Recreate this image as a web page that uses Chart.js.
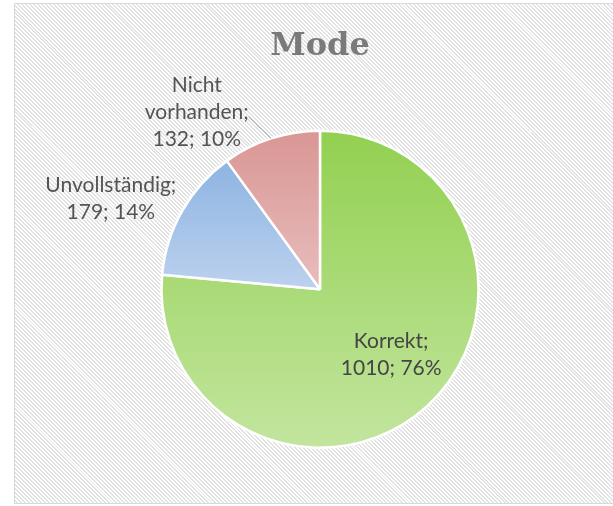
<!DOCTYPE html>
<html lang="de">
  <head>
    <meta charset="UTF-8" />
    <title>Mode</title>
    <script src="https://cdn.jsdelivr.net/npm/chart.js@4"></script>
    <style>
      html, body { margin: 0; padding: 0; background: #fff; }
      .wrap { position: relative; width: 613px; height: 506px; overflow: hidden; }
      .frame {
        position: absolute; left: 14px; top: 3px; width: 620px; height: 499px;
        border: 1px solid #d9d9d9;
        background: repeating-linear-gradient(45deg, #ffffff 0 1.4px, #e2e2e2 1.4px 2.8px);
      }
      canvas { position: absolute; left: 0; top: 0; }
    </style>
  </head>
  <body>
    <div class="wrap">
      <div class="frame"></div>
      <canvas id="chart" width="613" height="506"></canvas>
    </div>

    <script>
      // data
      const categories = ["Korrekt", "Unvollständig", "Nicht vorhanden"];
      const counts = [1010, 179, 132];

      // slice gradients (top -> bottom)
      const gradTop = ["#92d050", "#8db4e2", "#d99694"];
      const gradBottom = ["#c3e59f", "#bcd1ee", "#e8bdbc"];

      // label placement: distance factor along mid angle + nudge, wrap words, leader line
      const labelPlace = [
        { k: 0.61, dx: 6, dy: -6, wrap: false, leader: false, color: "#454545" },
        { k: 1.3, dx: -30, dy: 11, wrap: false, leader: false, color: "#545454" },
        { k: 1.25, dx: -62, dy: 12, wrap: true, leader: true, color: "#545454" },
      ];

      const total = counts.reduce((a, b) => a + b, 0);

      function sliceGradient(ctx) {
        const chart = ctx.chart;
        const area = chart.chartArea;
        const i = ctx.dataIndex;
        if (!area) return gradTop[i];
        const cx = (area.left + area.right) / 2;
        const cy = (area.top + area.bottom) / 2;
        const r = Math.min(area.right - area.left, area.bottom - area.top) / 2;
        let start = -Math.PI / 2;
        for (let k = 0; k < i; k++) start += (counts[k] / total) * 2 * Math.PI;
        const end = start + (counts[i] / total) * 2 * Math.PI;
        const ys = [cy, cy + r * Math.sin(start), cy + r * Math.sin(end)];
        for (const a of [Math.PI / 2, (3 * Math.PI) / 2]) {
          if (a > start && a < end) ys.push(cy + r * Math.sin(a));
        }
        const g = chart.ctx.createLinearGradient(0, Math.min(...ys), 0, Math.max(...ys));
        g.addColorStop(0, gradTop[i]);
        g.addColorStop(1, gradBottom[i]);
        return g;
      }

      const pieLabels = {
        id: "pieLabels",
        afterDatasetsDraw(chart) {
          const c = chart.ctx;
          const arcs = chart.getDatasetMeta(0).data;
          c.save();
          c.font = "21px Lato";
          c.textAlign = "center";
          c.textBaseline = "middle";
          const lh = 27;
          arcs.forEach((arc, i) => {
            const p = labelPlace[i];
            const { x, y, startAngle, endAngle, outerRadius } = arc.getProps(
              ["x", "y", "startAngle", "endAngle", "outerRadius"], true);
            const mid = (startAngle + endAngle) / 2;
            const bx = x + Math.cos(mid) * outerRadius * p.k + p.dx;
            const by = y + Math.sin(mid) * outerRadius * p.k + p.dy;
            const pct = Math.round((counts[i] / total) * 100);
            const nameLines = p.wrap ? categories[i].split(" ") : [categories[i]];
            nameLines[nameLines.length - 1] += ";";
            const lines = nameLines.concat([counts[i] + "; " + pct + "%"]);
            const top = by - ((lines.length - 1) * lh) / 2;
            c.fillStyle = p.color;
            lines.forEach((t, j) => c.fillText(t, bx, top + j * lh));
            if (p.leader) {
              const w = Math.max(...lines.map((t) => c.measureText(t).width));
              c.strokeStyle = "#999999";
              c.lineWidth = 1;
              c.beginPath();
              c.moveTo(x + Math.cos(mid) * outerRadius, y + Math.sin(mid) * outerRadius);
              c.lineTo(bx + w / 2, top + lh + 4);
              c.stroke();
            }
          });
          c.restore();
        },
      };

      new Chart(document.getElementById("chart"), {
        type: "pie",
        data: {
          labels: categories,
          datasets: [
            {
              data: counts,
              backgroundColor: sliceGradient,
              borderColor: "#ffffff",
              borderWidth: 2.5,
            },
          ],
        },
        options: {
          responsive: false,
          animation: false,
          events: [],
          layout: { padding: { top: 27, left: 160, right: 133, bottom: 57 } },
          plugins: {
            legend: { display: false },
            tooltip: { enabled: false },
            title: {
              display: true,
              text: "Mode",
              color: "#7a7a7a",
              font: { family: "DejaVu Serif", size: 32, weight: "bold" },
              padding: { top: 0, bottom: 64 },
            },
          },
        },
        plugins: [pieLabels],
      });
    </script>
  </body>
</html>
